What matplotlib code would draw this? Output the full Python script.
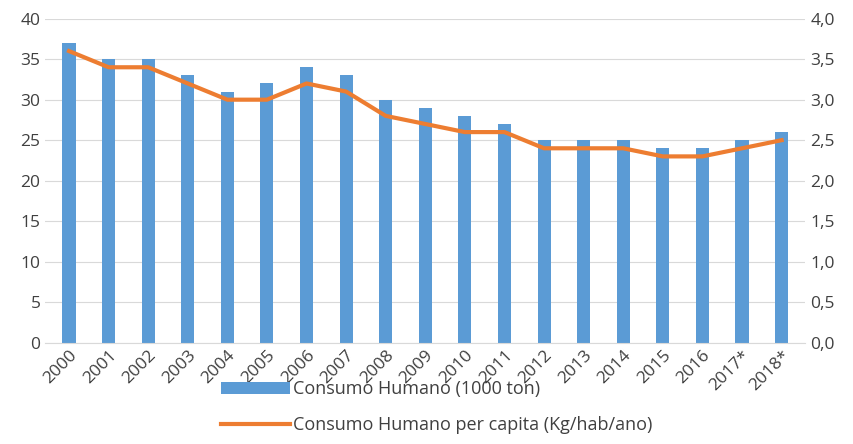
import matplotlib
matplotlib.use("Agg")
import matplotlib.pyplot as plt
import numpy as np

anos = ['2000', '2001', '2002', '2003', '2004', '2005', '2006', '2007', '2008', '2009',
        '2010', '2011', '2012', '2013', '2014', '2015', '2016', '2017*', '2018*']
consumo = [37, 35, 35, 33, 31, 32, 34, 33, 30, 29, 28, 27, 25, 25, 25, 24, 24, 25, 26]
per_capita = [3.6, 3.4, 3.4, 3.2, 3.0, 3.0, 3.2, 3.1, 2.8, 2.7, 2.6, 2.6, 2.4, 2.4, 2.4,
              2.3, 2.3, 2.4, 2.5]

plt.rcParams['font.family'] = ['Open Sans', 'DejaVu Sans']
cor_txt = '#404040'

fig = plt.figure(figsize=(8.54, 4.44), dpi=100)
ax = fig.add_axes([0.053, 0.228, 0.89, 0.73])
x = np.arange(len(anos))
b = ax.bar(x, consumo, width=0.33, color='#5B9BD5', label='Consumo Humano (1000 ton)', zorder=2)
ax.set_ylim(0, 40)
ax.set_yticks(range(0, 41, 5))
ax.set_xlim(-0.6, len(anos) - 0.4)
ax.set_xticks(x)
ax.set_xticklabels(anos, rotation=45, ha='right', rotation_mode='anchor')
ax.grid(axis='y', color='#D9D9D9', linewidth=0.8, zorder=0)
for s in ax.spines.values():
    s.set_visible(False)
ax.spines['bottom'].set_visible(True)
ax.spines['bottom'].set_color('#D9D9D9')
ax.tick_params(length=0, labelsize=12.5, colors=cor_txt)

ax2 = ax.twinx()
l, = ax2.plot(x, per_capita, color='#ED7D31', linewidth=3, label='Consumo Humano per capita (Kg/hab/ano)')
ax2.set_ylim(0, 4)
ax2.set_yticks(np.arange(0, 4.01, 0.5))
ax2.set_yticklabels([f'{v:.1f}'.replace('.', ',') for v in np.arange(0, 4.01, 0.5)])
for s in ax2.spines.values():
    s.set_visible(False)
ax2.tick_params(length=0, labelsize=12.5, colors=cor_txt)

fig.legend(handles=[b, l], loc='lower left', bbox_to_anchor=(0.24, -0.015), ncol=1,
           frameon=False, fontsize=13, labelcolor=cor_txt, handlelength=3.8,
           labelspacing=1.0, handletextpad=0.2)

fig.savefig('out.png', dpi=100)
